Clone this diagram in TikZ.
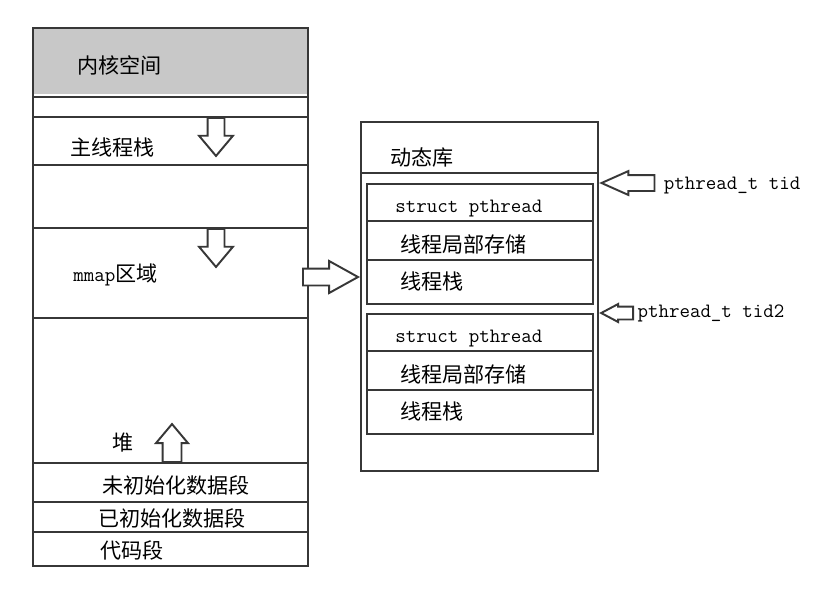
\documentclass[tikz,border=0pt]{standalone}
\usepackage{fontspec}
\usepackage{xcolor}
\usepackage{tikz}
\usetikzlibrary{shapes.arrows, positioning}
\newfontfamily\hanfont{Noto Sans CJK SC}
\definecolor{linec}{RGB}{55,55,55}
\definecolor{kernelgray}{RGB}{200,200,200}
\tikzset{
    seg/.style={draw=linec, line width=1.25pt, inner sep=0pt, anchor=north west},
    segline/.style={draw=linec, line width=1.25pt},
    cjk/.style={font=\hanfont\fontsize{12}{14}\selectfont, anchor=west, inner sep=0pt},
    mono/.style={font=\ttfamily\fontsize{11.6}{13}\selectfont, anchor=west, inner sep=0pt},
    fatarrow/.style={single arrow, draw=linec, fill=white, line width=1.1pt, inner sep=0pt,
        text height=0.15cm, text depth=0.15cm, single arrow head extend=0.17cm,
        single arrow tip angle=80, minimum height=0.76cm},
    ptrarrow/.style={single arrow, draw=linec, fill=white, line width=1.1pt, inner sep=0pt}
}

\begin{document}
\begin{tikzpicture}[x=0.02cm, y=-0.02cm]
    \useasboundingbox (0,0) rectangle (825,600);

    % process address space
    \fill[kernelgray] (32,27) rectangle (307,94);
    \node[seg, minimum width=5.5cm, minimum height=10.76cm] (mem) at (32,27) {};
    \foreach \y in {97,117,165,228,318,463,502,532}
        \draw[segline] (mem.west |- 0,\y) -- (mem.east |- 0,\y);

    \node[cjk] (kern) at (77,65) {内核空间};
    \node[cjk] (mstack) at (70,147) {主线程栈};
    \node[cjk] (mmap) at (73,275) {{\ttfamily\fontsize{11.6}{13}\selectfont mmap}区域};
    \node[cjk] (heap) at (112,443) {堆};
    \node[cjk] (bss) at (102,485) {未初始化数据段};
    \node[cjk] (data) at (98,518) {已初始化数据段};
    \node[cjk] (text) at (100,550) {代码段};

    \node[fatarrow, rotate=-90, anchor=tail] (down1) at (216,117) {};
    \node[fatarrow, rotate=-90, anchor=tail] (down2) at (216,228) {};
    \node[fatarrow, rotate=90, anchor=tail, text height=0.17cm, text depth=0.17cm,
        single arrow head extend=0.13cm, minimum height=0.76cm] (up) at (172,463) {};

    % shared library area
    \node[seg, minimum width=4.74cm, minimum height=6.98cm] (lib) at (360,121) {};
    \draw[segline] (lib.west |- 0,173) -- (lib.east |- 0,173);
    \node[cjk] (libname) at (390,157) {动态库};

    \foreach \t/\n in {183/a,313/b} {
        \node[seg, minimum width=4.52cm, minimum height=2.4cm] (tcb\n) at (366,\t) {};
        \draw[segline] (tcb\n.west |- 0,\t+38) -- (tcb\n.east |- 0,\t+38);
        \draw[segline] (tcb\n.west |- 0,\t+77) -- (tcb\n.east |- 0,\t+77);
        \node[mono] (st\n) at (395,\t+26) {struct pthread};
        \node[cjk] (tls\n) at (400,\t+61) {线程局部存储};
        \node[cjk] (stk\n) at (400,\t+98) {线程栈};
    }

    \node[fatarrow, anchor=tip, single arrow head extend=0.15cm,
        single arrow tip angle=58, minimum height=1.1cm] (tolib) at (lib.west |- 0,277) {};

    % thread ids
    \node[ptrarrow, rotate=180, anchor=tip, text height=0.14cm, text depth=0.14cm,
        single arrow head extend=0.08cm, single arrow tip angle=48,
        minimum height=1.06cm] (ptid) at (lib.east |- tcba.north) {};
    \node[mono, right=0.16cm of ptid.tail, yshift=-0.06cm] (tid) {pthread\_t tid};
    \node[ptrarrow, rotate=180, anchor=tip, text height=0.11cm, text depth=0.11cm,
        single arrow head extend=0.05cm, single arrow tip angle=56,
        minimum height=0.64cm] (ptid2) at (lib.east |- tcbb.north) {};
    \node[mono, right=0.06cm of ptid2.tail] (tid2) {pthread\_t tid2};
\end{tikzpicture}
\end{document}
